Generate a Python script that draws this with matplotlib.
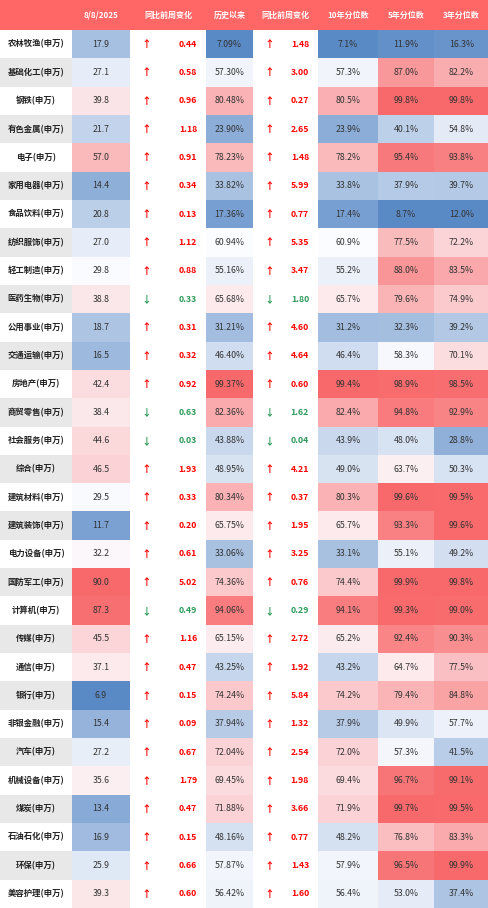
import numpy as np
import matplotlib
matplotlib.use("Agg")
import matplotlib.pyplot as plt
from matplotlib.colors import LinearSegmentedColormap, TwoSlopeNorm
from matplotlib.patches import Rectangle

plt.rcParams['font.family'] = ['Noto Sans CJK SC', 'DejaVu Sans']

headers = ["", "8/8/2025", "同比前周变化", "历史以来", "同比前周变化", "10年分位数", "5年分位数", "3年分位数"]
names = ["农林牧渔", "基础化工", "钢铁", "有色金属", "电子", "家用电器", "食品饮料", "纺织服饰",
         "轻工制造", "医药生物", "公用事业", "交通运输", "房地产", "商贸零售", "社会服务", "综合",
         "建筑材料", "建筑装饰", "电力设备", "国防军工", "计算机", "传媒", "通信", "银行",
         "非银金融", "汽车", "机械设备", "煤炭", "石油石化", "环保", "美容护理"]
pe = [17.9, 27.1, 39.8, 21.7, 57.0, 14.4, 20.8, 27.0, 29.8, 38.8, 18.7, 16.5, 42.4, 38.4, 44.6, 46.5,
      29.5, 11.7, 32.2, 90.0, 87.3, 45.5, 37.1, 6.9, 15.4, 27.2, 35.6, 13.4, 16.9, 25.9, 39.3]
pe_chg = [0.44, 0.58, 0.96, 1.18, 0.91, 0.34, 0.13, 1.12, 0.88, -0.33, 0.31, 0.32, 0.92, -0.63, -0.03, 1.93,
          0.33, 0.20, 0.61, 5.02, -0.49, 1.16, 0.47, 0.15, 0.09, 0.67, 1.79, 0.47, 0.15, 0.66, 0.60]
hist_pct = [7.09, 57.30, 80.48, 23.90, 78.23, 33.82, 17.36, 60.94, 55.16, 65.68, 31.21, 46.40, 99.37, 82.36,
            43.88, 48.95, 80.34, 65.75, 33.06, 74.36, 94.06, 65.15, 43.25, 74.24, 37.94, 72.04, 69.45,
            71.88, 48.16, 57.87, 56.42]
hist_chg = [1.48, 3.00, 0.27, 2.65, 1.48, 5.99, 0.77, 5.35, 3.47, -1.80, 4.60, 4.64, 0.60, -1.62, -0.04, 4.21,
            0.37, 1.95, 3.25, 0.76, -0.29, 2.72, 1.92, 5.84, 1.32, 2.54, 1.98, 3.66, 0.77, 1.43, 1.60]
pct10 = [7.1, 57.3, 80.5, 23.9, 78.2, 33.8, 17.4, 60.9, 55.2, 65.7, 31.2, 46.4, 99.4, 82.4, 43.9, 49.0,
         80.3, 65.7, 33.1, 74.4, 94.1, 65.2, 43.2, 74.2, 37.9, 72.0, 69.4, 71.9, 48.2, 57.9, 56.4]
pct5 = [11.9, 87.0, 99.8, 40.1, 95.4, 37.9, 8.7, 77.5, 88.0, 79.6, 32.3, 58.3, 98.9, 94.8, 48.0, 63.7,
        99.6, 93.3, 55.1, 99.9, 99.3, 92.4, 64.7, 79.4, 49.9, 57.3, 96.7, 99.7, 76.8, 96.5, 53.0]
pct3 = [16.3, 82.2, 99.8, 54.8, 93.8, 39.7, 12.0, 72.2, 83.5, 74.9, 39.2, 70.1, 98.5, 92.9, 28.8, 50.3,
        99.5, 99.6, 49.2, 99.8, 99.0, 90.3, 77.5, 84.8, 57.7, 41.5, 99.1, 99.5, 83.3, 99.9, 37.4]

W, H = 489, 908
col_x = [0, 72, 130, 206, 253, 318, 378, 434, 489]
header_h = 30
row_h = (H - header_h) / len(names)

cmap = LinearSegmentedColormap.from_list("excel", ["#5A8AC6", "#FCFCFF", "#F8696B"])
RED, GREEN, TXT = "#FF0000", "#2E9B5A", "#333333"

fig = plt.figure(figsize=(W / 100, H / 100), dpi=100)
ax = fig.add_axes([0, 0, 1, 1])
ax.set_xlim(0, W)
ax.set_ylim(H, 0)
ax.axis("off")

# header
ax.add_patch(Rectangle((0, 0), W, header_h, color="#FF6666", lw=0))
for j, h in enumerate(headers):
    ax.text((col_x[j] + col_x[j + 1]) / 2, header_h / 2, h, color="white", fontsize=5.8,
            fontweight="bold", ha="center", va="center")


def heat_col(j, vals, fmt, center=None):
    vals = np.asarray(vals, float)
    c = np.mean(vals) if center is None else center
    norm = TwoSlopeNorm(vcenter=c, vmin=vals.min(), vmax=vals.max())
    for i, v in enumerate(vals):
        y = header_h + i * row_h
        ax.add_patch(Rectangle((col_x[j], y), col_x[j + 1] - col_x[j], row_h + 0.3,
                               color=cmap(norm(v)), lw=0))
        ax.text((col_x[j] + col_x[j + 1]) / 2, y + row_h / 2, fmt.format(v), color=TXT,
                fontsize=6.3, ha="center", va="center")


def chg_col(j, vals):
    for i, v in enumerate(vals):
        y = header_h + i * row_h + row_h / 2
        c = RED if v >= 0 else GREEN
        ax.text(col_x[j] + 16, y, "↑" if v >= 0 else "↓", color=c, fontsize=7,
                fontweight="bold", ha="center", va="center")
        ax.text(col_x[j + 1] - 9, y, f"{abs(v):.2f}", color=c, fontsize=6.3,
                fontweight="bold", ha="right", va="center")


for i, n in enumerate(names):
    y = header_h + i * row_h
    ax.add_patch(Rectangle((0, y), col_x[1], row_h + 0.3,
                           color="#E8E8E8" if i % 2 else "white", lw=0))
    ax.text(col_x[1] / 2, y + row_h / 2, n + "(申万)", color="#222222", fontsize=6,
            fontweight="bold", ha="center", va="center")

heat_col(1, pe, "{:.1f}", center=30)
chg_col(2, pe_chg)
heat_col(3, hist_pct, "{:.2f}%", center=61)
chg_col(4, hist_chg)
heat_col(5, pct10, "{:.1f}%", center=61)
heat_col(6, pct5, "{:.1f}%", center=60)
heat_col(7, pct3, "{:.1f}%", center=62)

fig.savefig("out.png", dpi=100)
